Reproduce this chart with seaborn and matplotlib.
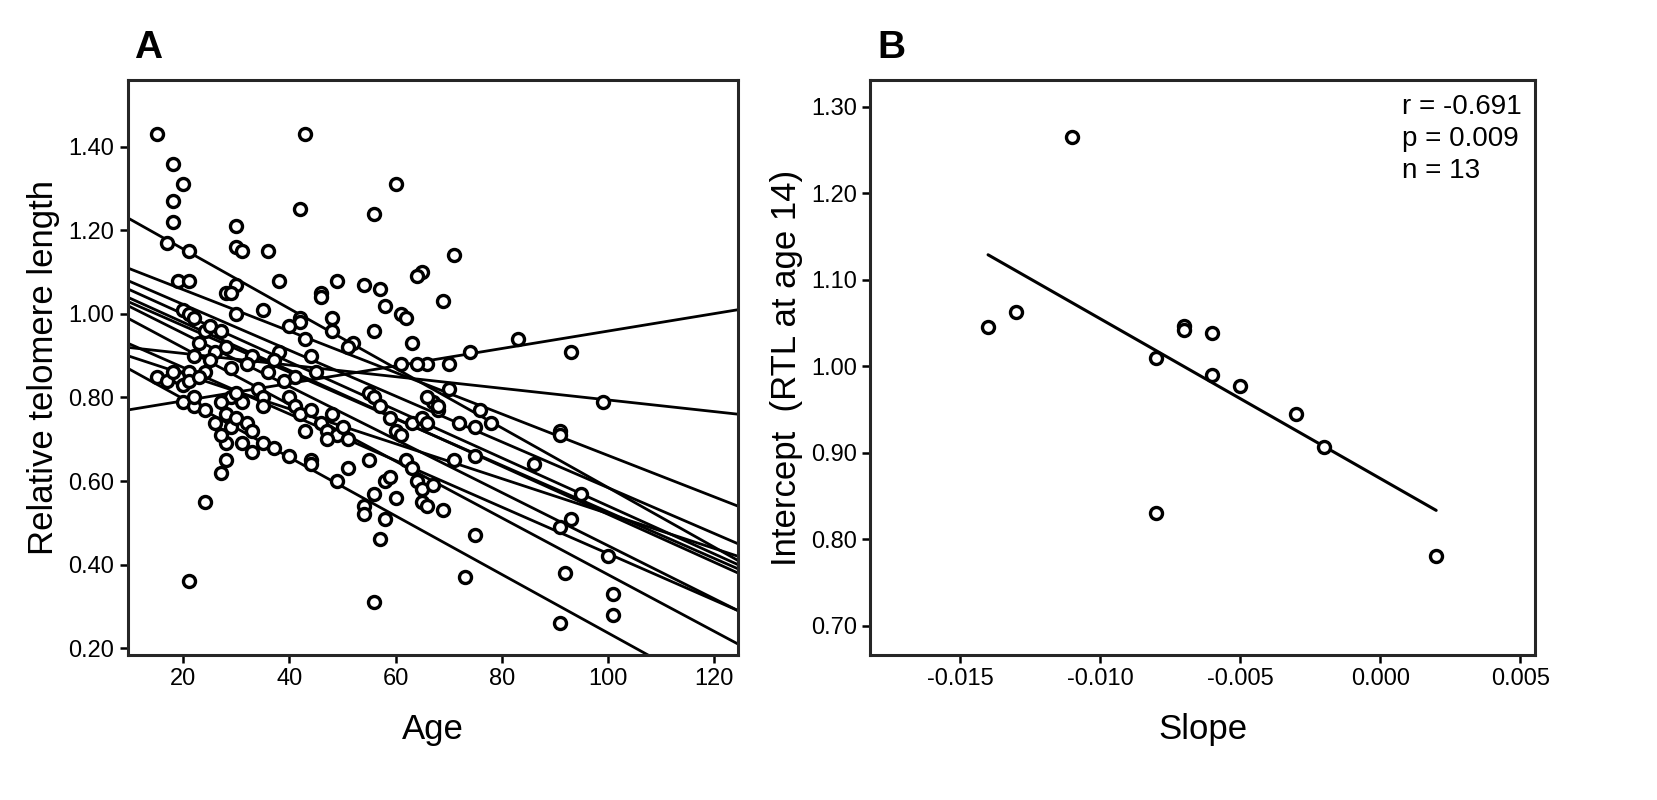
import numpy as np
import pandas as pd
import matplotlib
matplotlib.use('Agg')
import matplotlib.pyplot as plt
import seaborn as sns

sns.set_style('ticks')
plt.rcParams['font.family'] = ['Liberation Sans', 'DejaVu Sans']
plt.rcParams['text.color'] = 'black'
plt.rcParams['axes.labelcolor'] = 'black'
plt.rcParams['xtick.color'] = 'black'
plt.rcParams['ytick.color'] = 'black'

# panel A: individual measurements
age = [15,43,18,20,60,18,30,42,56,18,17,21,30,31,36,71,19,21,30,38,49,54,57,28,29,46,46,61,65,64,69,58,
       20,21,22,30,35,42,42,48,52,51,56,62,63,66,70,74,83,93,48,40,38,24,25,27,23,22,26,28,33,32,29,36,37,
       44,43,45,41,39,24,21,19,15,17,18,20,21,23,25,34,35,31,29,27,30,40,41,42,44,46,47,49,50,51,48,55,56,
       57,59,60,61,63,65,66,67,68,70,72,75,76,78,20,22,24,26,28,29,30,32,33,35,28,27,31,37,40,33,27,28,35,
       43,44,44,47,49,51,54,54,55,56,58,57,58,60,59,62,63,64,65,65,66,67,69,71,73,75,75,86,91,91,91,92,93,
       95,99,100,101,101,91,56,21,24,22,61,64,66,68]
rtl = [1.43,1.43,1.36,1.31,1.31,1.27,1.21,1.25,1.24,1.22,1.17,1.15,1.16,1.15,1.15,1.14,1.08,1.08,1.07,1.08,
       1.08,1.07,1.06,1.05,1.05,1.05,1.04,1.00,1.10,1.09,1.03,1.02,1.01,1.00,0.99,1.00,1.01,0.99,0.98,0.99,
       0.93,0.92,0.96,0.99,0.93,0.88,0.88,0.91,0.94,0.91,0.96,0.97,0.91,0.96,0.97,0.96,0.93,0.90,0.91,0.92,
       0.90,0.88,0.87,0.86,0.89,0.90,0.94,0.86,0.85,0.84,0.86,0.86,0.85,0.85,0.84,0.86,0.83,0.84,0.85,0.89,
       0.82,0.80,0.79,0.80,0.79,0.81,0.80,0.78,0.76,0.77,0.74,0.72,0.71,0.73,0.70,0.76,0.81,0.80,0.78,0.75,
       0.72,0.71,0.74,0.75,0.74,0.79,0.77,0.82,0.74,0.73,0.77,0.74,0.79,0.78,0.77,0.74,0.76,0.73,0.75,0.74,
       0.72,0.69,0.69,0.71,0.69,0.68,0.66,0.67,0.62,0.65,0.78,0.72,0.65,0.64,0.70,0.60,0.63,0.54,0.52,0.65,
       0.57,0.51,0.46,0.60,0.56,0.61,0.65,0.63,0.60,0.58,0.55,0.54,0.59,0.53,0.65,0.37,0.47,0.66,0.64,0.72,
       0.71,0.49,0.38,0.51,0.57,0.79,0.42,0.33,0.28,0.26,0.31,0.36,0.55,0.80,0.88,0.88,0.80,0.78]

# panel A: study-wise regression lines, value at age 9.5 and at age 124.5
line_left = [1.23, 1.11, 1.08, 1.06, 1.04, 1.03, 1.02, 0.99, 0.93, 0.92, 0.90, 0.87, 0.77]
line_right = [0.41, 0.54, 0.45, 0.40, 0.38, 0.39, 0.29, 0.21, 0.29, 0.76, 0.42, 0.065, 1.01]

# panel B: per-study slope vs intercept
slope = [-0.014, -0.013, -0.011, -0.008, -0.008, -0.007, -0.007, -0.006, -0.006, -0.005, -0.003, -0.002, 0.002]
intercept = [1.045, 1.063, 1.265, 1.010, 0.830, 1.047, 1.042, 1.038, 0.990, 0.977, 0.945, 0.907, 0.781]

fig = plt.figure(figsize=(16.58, 8), dpi=100)
ax1 = fig.add_axes([0.077, 0.181, 0.368, 0.719])
ax2 = fig.add_axes([0.525, 0.181, 0.401, 0.719])

mk = dict(marker='o', s=75, facecolor='white', edgecolor='black', linewidth=2.4, alpha=1, zorder=3)

x0, x1 = 9.5, 124.5
for l, r in zip(line_left, line_right):
    ax1.plot([x0, x1], [l, r], color='black', lw=2, zorder=2)
sns.scatterplot(x=age, y=rtl, ax=ax1, **mk)
ax1.set_xlim(x0, x1)
ax1.set_ylim(0.183, 1.56)
ax1.set_xticks([20, 40, 60, 80, 100, 120])
ax1.set_yticks(np.arange(0.2, 1.41, 0.2))
ax1.yaxis.set_major_formatter(matplotlib.ticker.FormatStrFormatter('%.2f'))
ax1.set_xlabel('Age', fontsize=25, labelpad=16)
ax1.set_ylabel('Relative telomere length', fontsize=25, labelpad=6)

dfb = pd.DataFrame({'Slope': slope, 'Intercept': intercept})
sns.regplot(data=dfb, x='Slope', y='Intercept', ax=ax2, ci=None, truncate=True,
            scatter_kws=dict(s=75, facecolor='white', edgecolor='black', linewidths=2.4, alpha=1, zorder=3),
            line_kws=dict(color='black', lw=2.2))
ax2.set_xlim(-0.0182, 0.00554)
ax2.set_ylim(0.666, 1.331)
ax2.set_xticks([-0.015, -0.010, -0.005, 0.0, 0.005])
ax2.xaxis.set_major_formatter(matplotlib.ticker.FormatStrFormatter('%.3f'))
ax2.set_yticks(np.arange(0.7, 1.31, 0.1))
ax2.yaxis.set_major_formatter(matplotlib.ticker.FormatStrFormatter('%.2f'))
ax2.set_xlabel('Slope', fontsize=25, labelpad=16)
ax2.set_ylabel('Intercept  (RTL at age 14)', fontsize=25, labelpad=6)
ax2.text(0.975, 0.975, 'r = -0.691\np = 0.009\nn = 13', transform=ax2.transAxes,
         ha='left', va='top', fontsize=20, linespacing=1.3)
ax2.texts[-1].set_x(0.80)

for ax, lab in [(ax1, 'A'), (ax2, 'B')]:
    for s in ax.spines.values():
        s.set_visible(True)
        s.set_linewidth(2.2)
    ax.tick_params(labelsize=17, width=1.8, length=6)
    ax.text(0.01, 1.025, lab, transform=ax.transAxes, fontsize=28, fontweight='bold', va='bottom')

fig.savefig('out.png', dpi=100)
